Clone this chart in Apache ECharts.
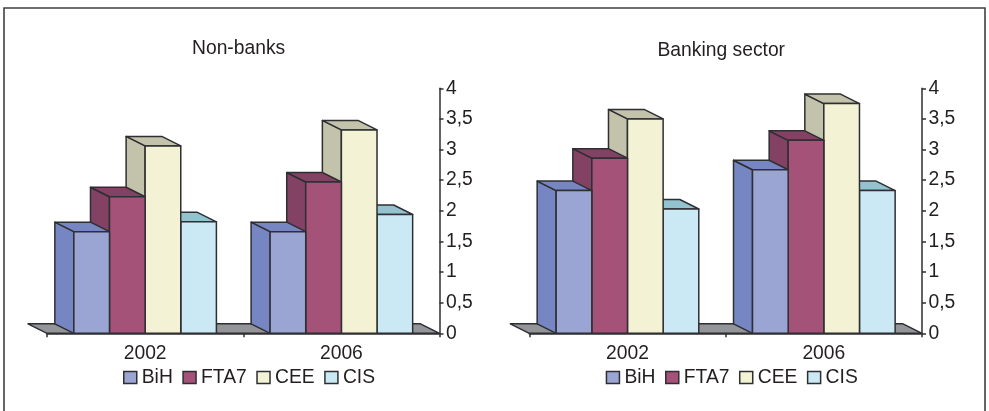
<!DOCTYPE html>
<html><head><meta charset="utf-8">
<style>html,body{margin:0;padding:0;background:#fff}#c{width:989px;height:411px}</style>
<script src="https://cdn.jsdelivr.net/npm/echarts@6/dist/echarts.min.js"></script>
</head><body><div id="c"></div>
<script>
const years = ['2002', '2006'];
const seriesNames = ['BiH', 'FTA7', 'CEE', 'CIS'];
const nonBanksBiH = [1.66, 1.66];
const nonBanksFTA7 = [2.23, 2.47];
const nonBanksCEE = [3.06, 3.32];
const nonBanksCIS = [1.82, 1.94];
const bankingBiH = [2.33, 2.67];
const bankingFTA7 = [2.86, 3.15];
const bankingCEE = [3.50, 3.75];
const bankingCIS = [2.03, 2.33];
const yTicks = ['0', '0,5', '1', '1,5', '2', '2,5', '3', '3,5', '4'];

const FONT = '"Liberation Sans", Arial, sans-serif';
const TEXT = '#231f20', EDGE = '#2f2f33';
const FS = 19.3, LW = 1.5;
const DX = 19, DY = 9.5, BAR_RATIO = 0.1816;
const palette = [
  {front:'#9aa5d3', shade:'#7686c2', top:'#7686c2'},
  {front:'#a45278', shade:'#834264', top:'#834264'},
  {front:'#f3f2d4', shade:'#c3c2aa', top:'#c3c2aa'},
  {front:'#cbe9f4', shade:'#94c3d0', top:'#94c3d0'}
];

function poly(points, fill){
  return {type:'polygon', shape:{points}, style:{fill, stroke:EDGE, lineWidth:LW, lineJoin:'round'}};
}
function barSeries(name, idx, values, axisIdx){
  const c = palette[idx];
  return {
    type:'custom', name, xAxisIndex:axisIdx, yAxisIndex:axisIdx, z:10 - idx, clip:false,
    itemStyle:{color:c.front, borderColor:EDGE, borderWidth:LW},
    encode:{x:0, y:1},
    data: values.map((v,i)=>[i, v]),
    renderItem(params, api){
      const base = api.coord([api.value(0), 0]);
      const top = api.coord([api.value(0), api.value(1)]);
      const band = api.size([1,0])[0];
      const w = band * BAR_RATIO;
      const x0 = base[0] - 2*w + idx*w, x1 = x0 + w;
      const y0 = base[1], y1 = top[1];
      return {type:'group', children:[
        poly([[x0,y0],[x0-DX,y0-DY],[x0-DX,y1-DY],[x0,y1]], c.shade),
        poly([[x0,y1],[x0-DX,y1-DY],[x1-DX,y1-DY],[x1,y1]], c.top),
        poly([[x0,y0],[x0,y1],[x1,y1],[x1,y0]], c.front)
      ]};
    }
  };
}
function floorSeries(axisIdx){
  return {
    type:'custom', name:'floor', xAxisIndex:axisIdx, yAxisIndex:axisIdx, z:1, clip:false, silent:true,
    data:[[0,0]], encode:{x:0, y:1},
    renderItem(params, api){
      const cs = params.coordSys;
      const y0 = cs.y + cs.height, x0 = cs.x, x1 = cs.x + cs.width;
      return poly([[x0,y0],[x0-DX,y0-DY],[x1-DX,y0-DY],[x1,y0]], '#939598');
    }
  };
}
function xAxis(gridIndex){
  return {type:'category', gridIndex, data:years, position:'bottom',
    axisLine:{lineStyle:{color:EDGE,width:LW}},
    axisTick:{show:true,length:4,alignWithLabel:false,lineStyle:{color:EDGE,width:LW}},
    axisLabel:{color:TEXT,fontFamily:FONT,fontSize:FS,margin:11},
    z:20};
}
function yAxis(gridIndex){
  return {type:'value', gridIndex, position:'right', min:0, max:4, interval:0.5,
    splitLine:{show:false},
    axisLine:{show:true,lineStyle:{color:EDGE,width:LW}},
    axisTick:{show:true,length:4,inside:false,lineStyle:{color:EDGE,width:LW}},
    axisLabel:{color:TEXT,fontFamily:FONT,fontSize:FS,margin:6.5,padding:[2,0,0,0],
      formatter:(v)=>yTicks[Math.round(v*2)]},
    z:20};
}
function legend(left){
  return {left, top:368, orient:'horizontal', data:seriesNames, selectedMode:false,
    icon:'rect', itemWidth:13, itemHeight:12, itemGap:9.5,
    itemStyle:{borderColor:EDGE,borderWidth:LW},
    textStyle:{color:TEXT,fontFamily:FONT,fontSize:FS},padding:0};
}

const chart = echarts.init(document.getElementById('c'), null, {renderer:'canvas'});
chart.setOption({
  animation:false,
  backgroundColor:'#fff',
  title:[
    {text:'Non-banks', left:192, top:39, padding:0, textStyle:{color:TEXT,fontFamily:FONT,fontSize:FS,fontWeight:'normal'}},
    {text:'Banking sector', left:657.5, top:41, padding:0, textStyle:{color:TEXT,fontFamily:FONT,fontSize:FS,fontWeight:'normal'}}
  ],
  grid:[
    {left:47, width:392.5, top:88.3, height:245},
    {left:529.3, width:392.7, top:88.3, height:245}
  ],
  xAxis:[xAxis(0), xAxis(1)],
  yAxis:[yAxis(0), yAxis(1)],
  legend:[legend(123), legend(605.7)],
  graphic:[{type:'polyline', silent:true, z:0,
    shape:{points:[[4,411],[4,8],[985,8],[985,411]]},
    style:{fill:null,stroke:'#414042',lineWidth:1.6}}],
  series:[
    floorSeries(0), floorSeries(1),
    barSeries('BiH',0,nonBanksBiH,0), barSeries('FTA7',1,nonBanksFTA7,0),
    barSeries('CEE',2,nonBanksCEE,0), barSeries('CIS',3,nonBanksCIS,0),
    barSeries('BiH',0,bankingBiH,1), barSeries('FTA7',1,bankingFTA7,1),
    barSeries('CEE',2,bankingCEE,1), barSeries('CIS',3,bankingCIS,1)
  ]
});
</script></body></html>
